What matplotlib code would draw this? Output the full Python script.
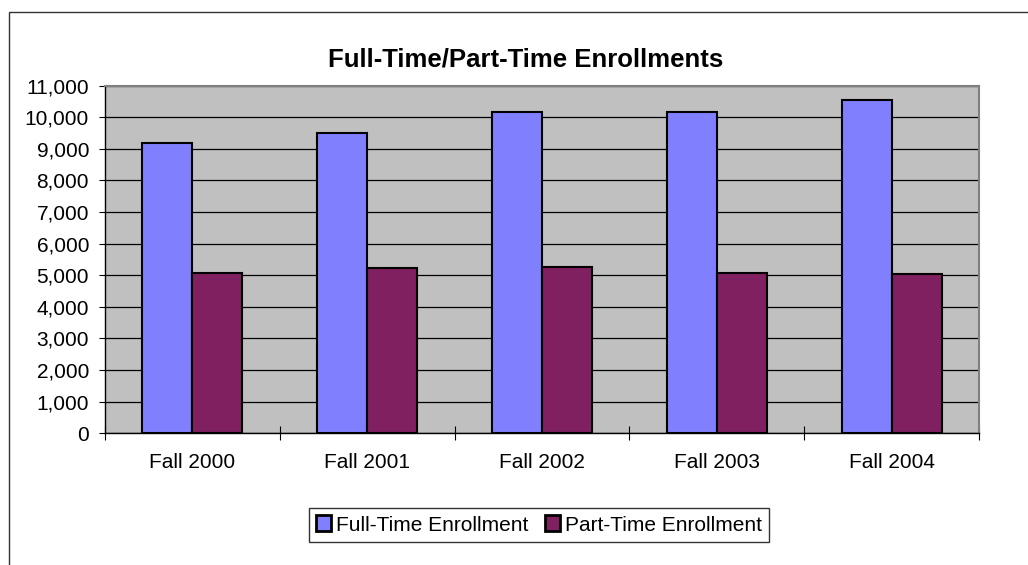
import numpy as np
import matplotlib
matplotlib.use('Agg')
import matplotlib.pyplot as plt
from matplotlib.patches import Rectangle
from matplotlib.ticker import FuncFormatter, FixedLocator

plt.rcParams['font.family'] = ['Liberation Sans', 'DejaVu Sans']

# Enrollment data
terms = ['Fall 2000', 'Fall 2001', 'Fall 2002', 'Fall 2003', 'Fall 2004']
full_time = [9180, 9500, 10170, 10170, 10550]
part_time = [5070, 5240, 5260, 5080, 5040]
series_names = ['Full-Time Enrollment', 'Part-Time Enrollment']
yticks = list(range(0, 11001, 1000))

W, H = 1028, 565
fig = plt.figure(figsize=(W / 100, H / 100), dpi=100)

# chart border (only top and left edges show in the crop)
fig.patches.append(Rectangle((9 / W, -0.1), 2.0, 1 - 12 / H + 0.1, transform=fig.transFigure,
                             fill=False, edgecolor='#333333', linewidth=1.0))

ax = fig.add_axes([105 / W, 1 - 433.3 / H, (979 - 105) / W, (433.3 - 85.5) / H])
ax.set_facecolor('#C0C0C0')

x = np.arange(len(terms))
w = 1 / 3.5
ax.bar(x - w / 2, full_time, w, color='#8080FF', edgecolor='black', linewidth=1.5,
       label=series_names[0], zorder=3)
ax.bar(x + w / 2, part_time, w, color='#802060', edgecolor='black', linewidth=1.5,
       label=series_names[1], zorder=3)

ax.set_xlim(-0.5, len(terms) - 0.5)
ax.set_ylim(0, 11000)
ax.set_yticks(yticks)
ax.yaxis.set_major_formatter(FuncFormatter(lambda v, p: f'{int(v):,}'))
ax.yaxis.grid(True, color='black', linewidth=0.9)
ax.set_axisbelow(True)

# category boundaries get the tick marks, centres get the labels
ax.xaxis.set_major_locator(FixedLocator(np.arange(-0.5, len(terms), 1.0)))
ax.xaxis.set_minor_locator(FixedLocator(x))
ax.set_xticklabels([])
ax.set_xticklabels(terms, minor=True)
ax.tick_params(axis='x', which='major', direction='inout', length=10, width=0.8, color='black')
ax.tick_params(axis='x', which='minor', length=0, pad=14, labelsize=15)
ax.tick_params(axis='y', direction='out', length=4.5, width=0.8, pad=7, labelsize=15)

for side in ['left', 'bottom']:
    ax.spines[side].set_color('black')
    ax.spines[side].set_linewidth(1.0)
for side in ['top', 'right']:
    ax.spines[side].set_color('#808080')
    ax.spines[side].set_linewidth(1.5)

fig.text(525.5 / W, 1 - 60 / H, 'Full-Time/Part-Time Enrollments', ha='center', va='center',
         fontsize=18.5, fontweight='bold')

leg = ax.legend(loc='center', bbox_to_anchor=(539 / W, 1 - 525 / H), bbox_transform=fig.transFigure,
                ncol=2, fontsize=15, frameon=True, fancybox=False, edgecolor='black',
                handlelength=0.7, handleheight=0.8, handletextpad=0.25, columnspacing=0.8,
                borderpad=0.35, borderaxespad=0)
leg.get_frame().set_linewidth(1.0)
for h in leg.legend_handles:
    h.set_linewidth(2.0)

fig.savefig('out.png', dpi=100)
